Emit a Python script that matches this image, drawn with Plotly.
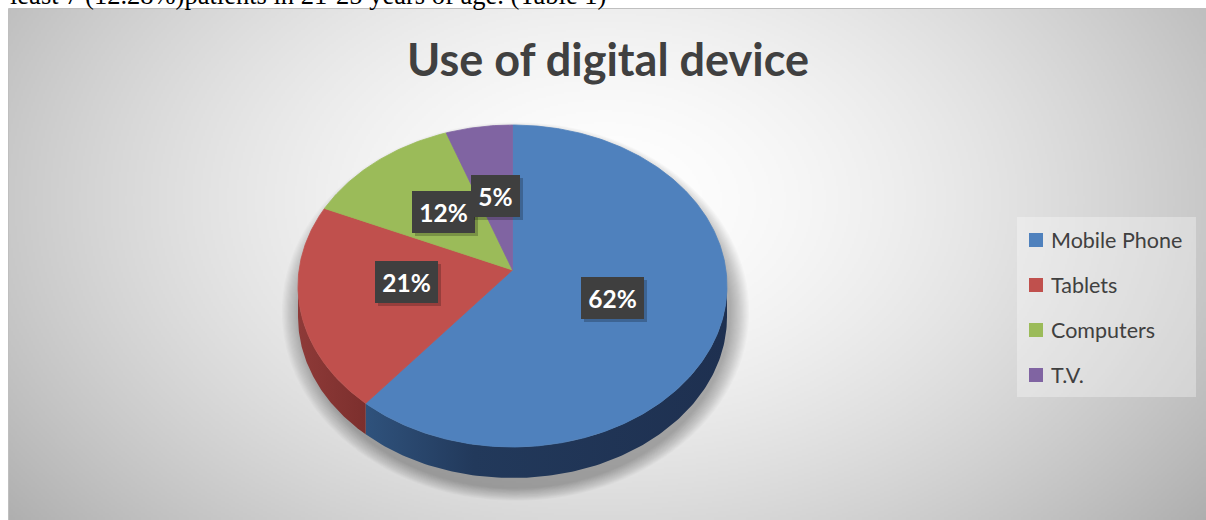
import base64
import struct
import zlib

import numpy as np
import plotly.graph_objects as go

# ---------------- data ----------------
categories = ["Mobile Phone", "Tablets", "Computers", "T.V."]
values = [62, 21, 12, 5]
pct_labels = ["62%", "21%", "12%", "5%"]
title_text = "Use of digital device"
top_line = "least 7 (12.28%)patients in 21-25 years of age. (Table 1)"

# ---------------- style ----------------
top_colors = ["#4F81BD", "#C0504D", "#9BBB59", "#8064A2"]
side_scales = [
    [[0, "#2F527C"], [0.3, "#22395B"], [1, "#1E3050"]],
    [[0, "#8E3A38"], [1, "#7C2F2D"]],
    [[0, "#6E8A3C"], [1, "#5E7832"]],
    [[0, "#5A4678"], [1, "#4C3B66"]],
]
TEXT_COL = "#404040"

W, H = 1206, 520
CX, CY = 512.5, 286.0      # centre of top ellipse
AX, AY = 512.5, 270.0      # apex of slices
RX, RY = 214.5, 161.0
DEPTH = 31.0
LBL_RX, LBL_RY = 107.5, 75.0
CHART_X0, CHART_Y0 = 8, 9


def rim(t_deg, dy=0.0):
    t = np.radians(t_deg)
    return CX + RX * np.sin(t), CY - RY * np.cos(t) + dy


def png_uri(arr):
    h, w, _ = arr.shape
    raw = b"".join(b"\x00" + arr[r].tobytes() for r in range(h))

    def chunk(tag, data):
        return (struct.pack(">I", len(data)) + tag + data
                + struct.pack(">I", zlib.crc32(tag + data) & 0xFFFFFFFF))

    png = (b"\x89PNG\r\n\x1a\n"
           + chunk(b"IHDR", struct.pack(">IIBBBBB", w, h, 8, 2, 0, 0, 0))
           + chunk(b"IDAT", zlib.compress(raw, 9))
           + chunk(b"IEND", b""))
    return "data:image/png;base64," + base64.b64encode(png).decode()


# radial background gradient (chart area)
gw, gh = 600, 256
bw, bh = W - CHART_X0, H - CHART_Y0
gx = np.linspace(CHART_X0, W, gw)
gy = np.linspace(CHART_Y0, H, gh)
XX, YY = np.meshgrid(gx, gy)
d = np.sqrt(((XX - 605) / 640.0) ** 2 + ((YY - 200) / 430.0) ** 2)
v = 255 - 60 * np.clip(d, 0, 1.3) ** 1.6
img = np.clip(np.stack([v, v, v], axis=-1), 0, 255).astype(np.uint8)
bg_uri = png_uri(img)

fig = go.Figure()

total = float(sum(values))
bounds = np.concatenate([[0.0], np.cumsum(values)]) / total * 360.0

# sides (visible lower half of the rim)
for i, cat in enumerate(categories):
    t0, t1 = bounds[i], bounds[i + 1]
    lo, hi = max(t0, 90.0), min(t1, 270.0)
    if lo >= hi:
        continue
    ts = np.linspace(lo, hi, 120)
    xt, yt = rim(ts)
    xb, yb = rim(ts[::-1], DEPTH)
    xs = np.concatenate([xt, xb, xt[:1]])
    ys = np.concatenate([yt, yb, yt[:1]])
    fig.add_trace(go.Scatter(
        x=xs, y=ys, mode="lines", fill="toself",
        fillgradient=dict(type="horizontal", colorscale=side_scales[i]),
        line=dict(width=0), hoverinfo="skip", showlegend=False))

# top surfaces
for i, cat in enumerate(categories):
    t0, t1 = bounds[i], bounds[i + 1]
    n = max(int((t1 - t0) * 1.5), 8)
    ts = np.linspace(t0, t1, n)
    xr, yr = rim(ts)
    xs = np.concatenate([[AX], xr, [AX]])
    ys = np.concatenate([[AY], yr, [AY]])
    fig.add_trace(go.Scatter(
        x=xs, y=ys, mode="lines", fill="toself", fillcolor=top_colors[i],
        line=dict(width=0.8, color=top_colors[i]),
        name=cat, hoverinfo="name", showlegend=False))

# legend markers
leg_x = 1036
leg_y = [240 + 45 * i for i in range(len(categories))]
fig.add_trace(go.Scatter(
    x=[leg_x] * len(categories), y=leg_y, mode="markers",
    marker=dict(symbol="square", size=14, color=top_colors, line=dict(width=0)),
    hoverinfo="skip", showlegend=False))

shapes = []
# soft shadow under the pie
for k in range(16, 0, -1):
    shapes.append(dict(
        type="circle", xref="x", yref="y", layer="below",
        x0=CX + 3 - RX - 1.2 * k, x1=CX + 3 + RX + 1.2 * k,
        y0=CY + DEPTH / 2 + 10 - (RY + DEPTH / 2) - 0.8 * k,
        y1=CY + DEPTH / 2 + 10 + (RY + DEPTH / 2) + 0.8 * k,
        fillcolor="rgba(0,0,0,0.02)", line=dict(width=0)))
# legend background
shapes.append(dict(type="rect", xref="x", yref="y", layer="below",
                   x0=1017, x1=1196, y0=217, y1=397,
                   fillcolor="rgba(255,255,255,0.32)", line=dict(width=0)))
# chart border
shapes.append(dict(type="rect", xref="x", yref="y", layer="above",
                   x0=CHART_X0 + 0.5, x1=W + 5, y0=CHART_Y0 - 0.5, y1=H + 5,
                   fillcolor="rgba(0,0,0,0)", line=dict(width=1, color="#BFBFBF")))

annotations = []
# cut-off text line above the chart
annotations.append(dict(
    x=CHART_X0, y=12, xref="x", yref="y", xanchor="left", yanchor="bottom",
    text=top_line, showarrow=False,
    font=dict(family="Liberation Serif", size=26.5, color="#000000")))
# title
annotations.append(dict(
    x=608, y=59, xref="x", yref="y", xanchor="center", yanchor="middle",
    text="<b>" + title_text + "</b>", showarrow=False,
    font=dict(family="Lato", size=45, color=TEXT_COL)))
# data labels
for i, lab in enumerate(pct_labels):
    mid = np.radians((bounds[i] + bounds[i + 1]) / 2)
    lx = AX + LBL_RX * np.sin(mid)
    ly = AY - LBL_RY * np.cos(mid)
    bwid = 14 * len(lab) + 21
    for shadow in (True, False):
        annotations.append(dict(
            x=lx, y=ly, xref="x", yref="y", xanchor="center", yanchor="middle",
            text="<b>" + lab + "</b>", showarrow=False,
            width=bwid, height=42, borderpad=0, borderwidth=0,
            align="center", valign="middle",
            xshift=3 if shadow else 0, yshift=-3 if shadow else 0,
            bgcolor="rgba(0,0,0,0.22)" if shadow else "#3F3F3F",
            font=dict(family="Lato", size=24.5,
                      color="rgba(0,0,0,0)" if shadow else "#FFFFFF")))
# legend labels
for i, cat in enumerate(categories):
    annotations.append(dict(
        x=1049, y=leg_y[i], xref="x", yref="y", xanchor="left", yanchor="middle",
        text=cat, showarrow=False,
        font=dict(family="Lato", size=21.5, color=TEXT_COL)))

fig.update_layout(
    width=W, height=H, margin=dict(l=0, r=0, t=0, b=0),
    paper_bgcolor="#FFFFFF", plot_bgcolor="rgba(0,0,0,0)",
    xaxis=dict(range=[0, W], visible=False, fixedrange=True),
    yaxis=dict(range=[H, 0], visible=False, fixedrange=True),
    showlegend=False,
    shapes=shapes, annotations=annotations,
    images=[dict(source=bg_uri, xref="paper", yref="paper",
                 x=CHART_X0 / W, y=1 - CHART_Y0 / H,
                 sizex=bw / W, sizey=bh / H, sizing="stretch",
                 xanchor="left", yanchor="top", layer="below")],
)

fig.write_html("out.html")
